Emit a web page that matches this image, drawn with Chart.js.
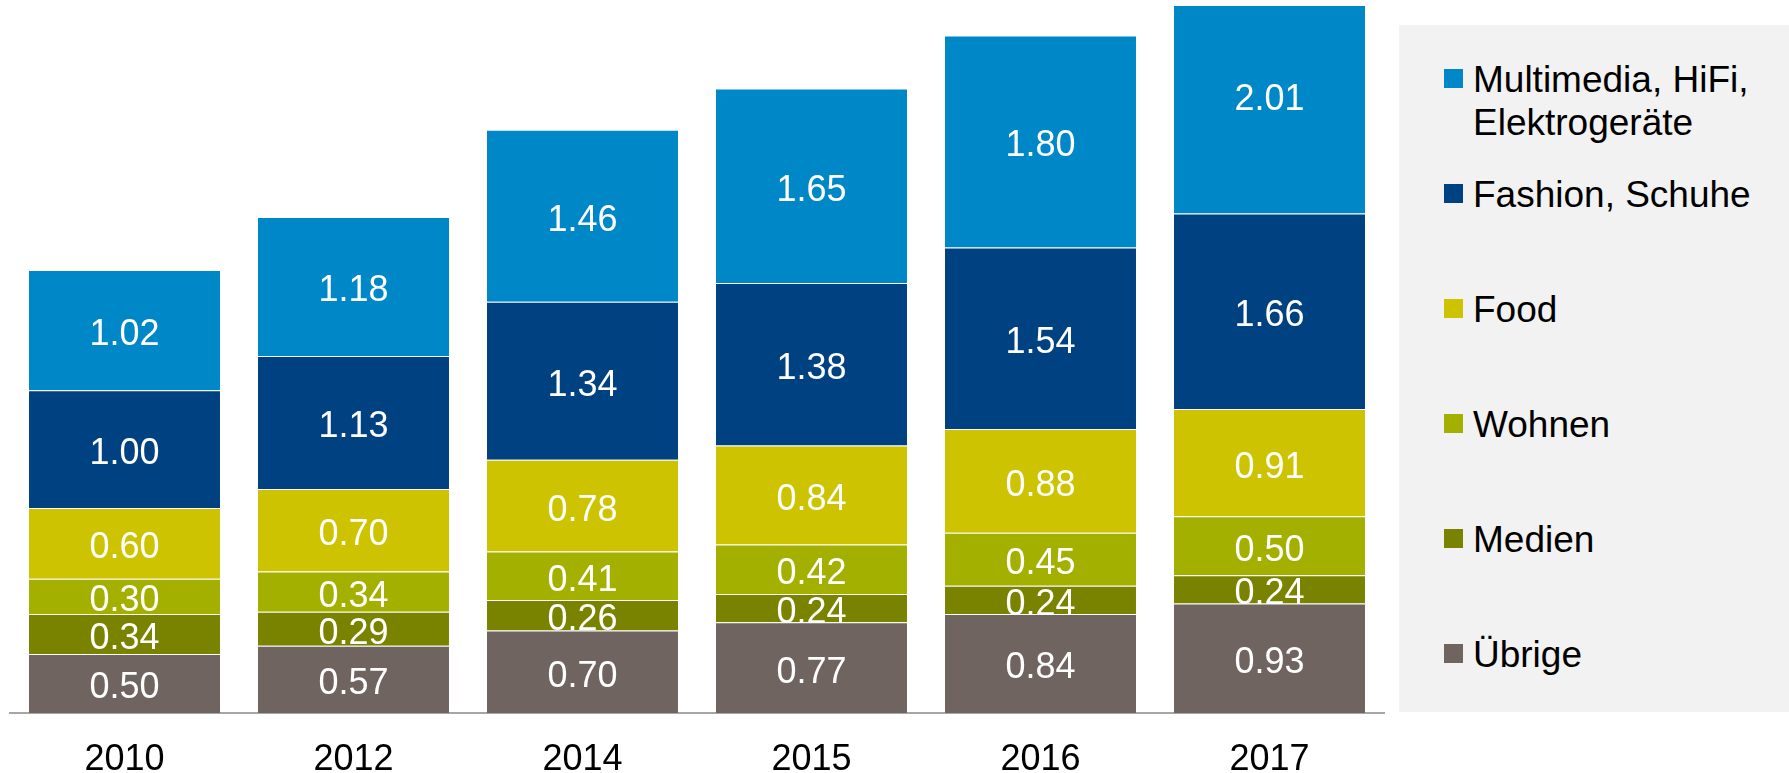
<!DOCTYPE html>
<html>
<head>
<meta charset="utf-8">
<script src="https://cdn.jsdelivr.net/npm/chart.js@4.4.0/dist/chart.umd.min.js"></script>
<style>
  html, body { margin: 0; padding: 0; background: #ffffff; }
  #wrap { position: relative; width: 1789px; height: 773px; overflow: hidden; }
  #c { position: absolute; left: 0; top: 0; }
  #legend { position: absolute; left: 1399px; top: 25px; width: 390px; height: 687px; background: #f2f2f2; }
  .item { position: absolute; left: 0; width: 390px; font-family: "Liberation Sans", Arial, sans-serif; font-size: 37px; line-height: 43px; color: #000; }
  .sw { position: absolute; left: 45px; width: 19px; height: 19px; }
  .tx { position: absolute; left: 74px; white-space: nowrap; }
</style>
</head>
<body>
<div id="wrap">
  <canvas id="c" width="1789" height="773"></canvas>
  <div id="legend"></div>
</div>
<script>
// ---- data ----
const categories = ['2010', '2012', '2014', '2015', '2016', '2017'];
const seriesNames = ['Übrige', 'Medien', 'Wohnen', 'Food', 'Fashion, Schuhe', 'Multimedia, HiFi, Elektrogeräte'];
const uebrige    = [0.50, 0.57, 0.70, 0.77, 0.84, 0.93];
const medien     = [0.34, 0.29, 0.26, 0.24, 0.24, 0.24];
const wohnen     = [0.30, 0.34, 0.41, 0.42, 0.45, 0.50];
const food       = [0.60, 0.70, 0.78, 0.84, 0.88, 0.91];
const fashion    = [1.00, 1.13, 1.34, 1.38, 1.54, 1.66];
const multimedia = [1.02, 1.18, 1.46, 1.65, 1.80, 2.01];
const legendLines = [['Multimedia, HiFi,', 'Elektrogeräte'], ['Fashion, Schuhe'], ['Food'], ['Wohnen'], ['Medien'], ['Übrige']];

const colors = ['#6f6460', '#7a8300', '#a3b000', '#cdc300', '#004182', '#0087c8'];
const values = [uebrige, medien, wohnen, food, fashion, multimedia];

const FONT = '"Liberation Sans", Arial, sans-serif';

const datasets = values.map((v, i) => ({
  label: seriesNames[i],
  data: v,
  backgroundColor: colors[i],
  borderColor: 'rgba(255,255,255,0.3)',
  borderWidth: { top: 1, left: 0, right: 0, bottom: 0 },
  borderSkipped: false,
  barPercentage: 0.834,
  categoryPercentage: 1.0,
  clip: 0
}));

const labelPlugin = {
  id: 'segLabels',
  afterDatasetsDraw(chart) {
    const ctx = chart.ctx;
    ctx.save();
    ctx.fillStyle = '#ffffff';
    ctx.font = '36px ' + FONT;
    ctx.textAlign = 'center';
    ctx.textBaseline = 'middle';
    chart.data.datasets.forEach((ds, di) => {
      const meta = chart.getDatasetMeta(di);
      meta.data.forEach((el, j) => {
        const y = (el.y + el.base) / 2;
        ctx.fillText(ds.data[j].toFixed(2), el.x, y + 5);
      });
    });
    ctx.restore();
  }
};

new Chart(document.getElementById('c'), {
  type: 'bar',
  data: { labels: categories, datasets: datasets },
  options: {
    responsive: false,
    animation: false,
    events: [],
    layout: { padding: { left: 10, right: 405, top: 6, bottom: 0 } },
    plugins: { legend: { display: false }, tooltip: { enabled: false } },
    scales: {
      x: {
        stacked: true,
        grid: { display: false, drawTicks: false },
        border: { display: true, color: '#a6a6a6', width: 2 },
        ticks: { color: '#000000', font: { family: FONT, size: 36 }, padding: 25, maxRotation: 0 },
        afterFit(scale) { scale.height = 60; }
      },
      y: {
        stacked: true,
        display: false,
        min: 0,
        max: 6
      }
    }
  },
  plugins: [labelPlugin]
});

// ---- HTML legend ----
const legend = document.getElementById('legend');
legendLines.forEach((lines, k) => {
  const seriesIdx = seriesNames.length - 1 - k;
  const item = document.createElement('div');
  item.className = 'item';
  const centerY = 53.5 + 115 * k; // swatch center relative to legend box
  item.style.top = '0px';
  const sw = document.createElement('div');
  sw.className = 'sw';
  sw.style.background = colors[seriesIdx];
  sw.style.top = (centerY - 9.5) + 'px';
  const tx = document.createElement('div');
  tx.className = 'tx';
  tx.style.top = (centerY - 21) + 'px';
  tx.innerHTML = lines.map(s => s.replace(/&/g, '&amp;')).join('<br>');
  item.appendChild(sw);
  item.appendChild(tx);
  legend.appendChild(item);
});
</script>
</body>
</html>
